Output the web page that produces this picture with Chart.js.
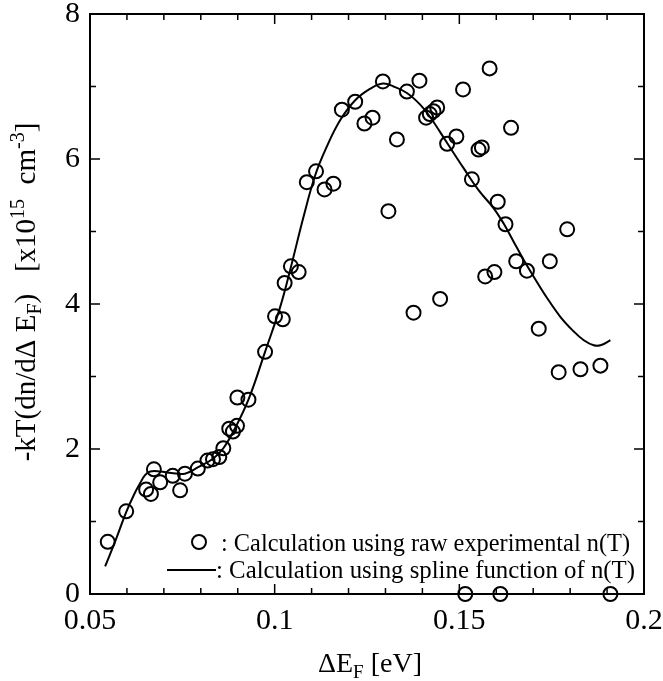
<!DOCTYPE html>
<html>
<head>
<meta charset="utf-8">
<script src="https://cdn.jsdelivr.net/npm/chart.js@4.4.0/dist/chart.umd.min.js"></script>
<style>
  html, body { margin: 0; padding: 0; background: #fff; }
  #wrap { width: 663px; height: 681px; }
</style>
</head>
<body>
<div id="wrap"><canvas id="chart" width="663" height="681"></canvas></div>
<script>
// raw experimental points
const rawX = [0.0548, 0.0598, 0.0652, 0.0665, 0.0673, 0.0690, 0.0724, 0.0744, 0.0757, 0.0792,
    0.0818, 0.0833, 0.0850, 0.0861, 0.0877, 0.0887, 0.0898, 0.0899, 0.0929, 0.0974,
    0.1001, 0.1022, 0.1027, 0.1044, 0.1065, 0.1087, 0.1112, 0.1135, 0.1159, 0.1182,
    0.1218, 0.1243, 0.1265, 0.1293, 0.1308, 0.1331, 0.1358, 0.1376, 0.1392, 0.1410,
    0.1420, 0.1430, 0.1440, 0.1448, 0.1467, 0.1492, 0.1510, 0.1534, 0.1552, 0.1561,
    0.1570, 0.1582, 0.1595, 0.1604, 0.1625, 0.1640, 0.1654, 0.1683, 0.1715, 0.1745,
    0.1769, 0.1792, 0.1828, 0.1882, 0.1516, 0.1611, 0.1909];
const rawY = [0.72, 1.14, 1.44, 1.38, 1.72, 1.54, 1.63, 1.43, 1.66, 1.73,
    1.84, 1.86, 1.89, 2.01, 2.28, 2.24, 2.32, 2.71, 2.68, 3.34,
    3.83, 3.79, 4.29, 4.52, 4.44, 5.68, 5.83, 5.58, 5.66, 6.68,
    6.79, 6.49, 6.57, 7.07, 5.28, 6.27, 6.93, 3.88, 7.08, 6.57,
    6.62, 6.66, 6.71, 4.07, 6.21, 6.31, 6.96, 5.72, 6.13, 6.16,
    4.38, 7.25, 4.44, 5.41, 5.10, 6.43, 4.59, 4.46, 3.66, 4.59,
    3.06, 5.03, 3.10, 3.15, 0, 0, 0];

// spline curve
const splineX = [0.0541, 0.0570, 0.0598, 0.0620, 0.0636, 0.0649, 0.0663, 0.0690, 0.0720, 0.0757,
    0.0793, 0.0834, 0.0861, 0.0888, 0.0929, 0.0974, 0.1015, 0.1042, 0.1078, 0.1110,
    0.1141, 0.1178, 0.1218, 0.1259, 0.1293, 0.1322, 0.1358, 0.1394, 0.1421, 0.1467,
    0.1512, 0.1552, 0.1593, 0.1620, 0.1647, 0.1674, 0.1701, 0.1738, 0.1774, 0.1810,
    0.1837, 0.1864, 0.1882, 0.1909];
const splineY = [0.38, 0.75, 1.13, 1.38, 1.53, 1.64, 1.69, 1.69, 1.67, 1.66,
    1.75, 1.87, 2.01, 2.24, 2.68, 3.34, 3.96, 4.47, 5.20, 5.78,
    6.17, 6.54, 6.81, 6.97, 7.04, 7.00, 6.91, 6.75, 6.58, 6.22,
    5.87, 5.57, 5.32, 5.11, 4.86, 4.61, 4.38, 4.08, 3.82, 3.62,
    3.50, 3.43, 3.43, 3.50];

const xMajor = [0.05, 0.1, 0.15, 0.2];
const xMajorLabels = ['0.05', '0.1', '0.15', '0.2'];
const yMajor = [0, 2, 4, 6, 8];

const legendLabels = [': Calculation using raw experimental n(T)', ': Calculation using spline function of n(T)'];

const serif = '"Liberation Serif", "Times New Roman", serif';

function isMajorX(v) {
    return xMajor.some(m => Math.abs(m - v) < 1e-6);
}

// inner ticks, frame, titles, legend
const decorPlugin = {
    id: 'decor',
    afterDraw(chart) {
        const ctx = chart.ctx;
        const a = chart.chartArea;
        const xs = chart.scales.x;
        const ys = chart.scales.y;
        ctx.save();
        ctx.strokeStyle = '#000';
        ctx.lineWidth = 2;
        ctx.strokeRect(a.left, a.top, a.right - a.left, a.bottom - a.top);

        ctx.lineWidth = 1.5;
        xs.ticks.forEach(t => {
            const px = xs.getPixelForValue(t.value);
            const len = isMajorX(t.value) ? 10 : 6;
            ctx.beginPath();
            ctx.moveTo(px, a.bottom); ctx.lineTo(px, a.bottom - len);
            ctx.moveTo(px, a.top); ctx.lineTo(px, a.top + len);
            ctx.stroke();
        });
        ys.ticks.forEach(t => {
            const py = ys.getPixelForValue(t.value);
            const len = yMajor.includes(Math.round(t.value)) ? 10 : 6;
            ctx.beginPath();
            ctx.moveTo(a.left, py); ctx.lineTo(a.left + len, py);
            ctx.moveTo(a.right, py); ctx.lineTo(a.right - len, py);
            ctx.stroke();
        });

        // x title
        ctx.fillStyle = '#000';
        ctx.textBaseline = 'alphabetic';
        const big = '28px ' + serif;
        const small = '19px ' + serif;
        let parts = [['\u0394E', big, 0], ['F', small, 6], [' [eV]', big, 0]];
        drawParts(ctx, parts, 370, 672);

        // y title, rotated
        ctx.save();
        ctx.translate(35, 292);
        ctx.rotate(-Math.PI / 2);
        const bigY = '29px ' + serif;
        const smallY = '20px ' + serif;
        parts = [['-kT(dn/d\u0394 E', bigY, 0], ['F', smallY, 6], [')   [x10', bigY, 0], ['15', smallY, -11],
            ['  cm', bigY, 0], ['-3', smallY, -11], [']', bigY, 0]];
        drawParts(ctx, parts, 0, 0);
        ctx.restore();

        // legend
        const ds0 = chart.data.datasets[0];
        const ds1 = chart.data.datasets[1];
        ctx.beginPath();
        ctx.lineWidth = ds0.borderWidth;
        ctx.arc(199, 542, ds0.pointRadius, 0, Math.PI * 2);
        ctx.stroke();
        ctx.beginPath();
        ctx.lineWidth = ds1.borderWidth;
        ctx.moveTo(167, 570); ctx.lineTo(216, 570);
        ctx.stroke();
        ctx.font = '25px ' + serif;
        fitText(ctx, legendLabels[0], 221, 551, 409);
        fitText(ctx, legendLabels[1], 216, 578, 419);
        ctx.restore();
    }
};

function drawParts(ctx, parts, cx, cy) {
    let total = 0;
    parts.forEach(p => { ctx.font = p[1]; total += ctx.measureText(p[0]).width; });
    let x = cx - total / 2;
    parts.forEach(p => {
        ctx.font = p[1];
        ctx.textAlign = 'left';
        ctx.fillText(p[0], x, cy + p[2]);
        x += ctx.measureText(p[0]).width;
    });
}

function fitText(ctx, text, x, y, maxW) {
    ctx.textAlign = 'left';
    const w = ctx.measureText(text).width;
    ctx.save();
    ctx.translate(x, y);
    if (w > maxW) ctx.scale(maxW / w, 1);
    ctx.fillText(text, 0, 0);
    ctx.restore();
}

new Chart(document.getElementById('chart'), {
    type: 'scatter',
    data: {
        datasets: [{
            label: 'raw',
            data: rawX.map((x, i) => ({ x: x, y: rawY[i] })),
            showLine: false,
            pointStyle: 'circle',
            pointRadius: 7,
            borderWidth: 2,
            borderColor: '#000',
            backgroundColor: 'rgba(0,0,0,0)',
            clip: false
        }, {
            label: 'spline',
            data: splineX.map((x, i) => ({ x: x, y: splineY[i] })),
            showLine: true,
            pointRadius: 0,
            borderWidth: 2,
            borderColor: '#000',
            backgroundColor: 'rgba(0,0,0,0)',
            tension: 0.4
        }]
    },
    options: {
        responsive: false,
        animation: false,
        devicePixelRatio: 1,
        layout: { padding: { left: 0, top: 14, right: 19, bottom: 0 } },
        plugins: { legend: { display: false }, tooltip: { enabled: false } },
        scales: {
            x: {
                type: 'linear',
                min: 0.05,
                max: 0.2,
                grid: { display: false, drawTicks: false },
                border: { display: false },
                ticks: {
                    stepSize: 0.01,
                    autoSkip: false,
                    maxRotation: 0,
                    padding: 9,
                    color: '#000',
                    font: { family: serif, size: 30 },
                    callback: v => {
                        const i = xMajor.findIndex(m => Math.abs(m - v) < 1e-6);
                        return i >= 0 ? xMajorLabels[i] : '';
                    }
                },
                afterFit: s => { s.height = 87; s.paddingLeft = 0; s.paddingRight = 0; }
            },
            y: {
                min: 0,
                max: 8,
                grid: { display: false, drawTicks: false },
                border: { display: false },
                ticks: {
                    stepSize: 1,
                    autoSkip: false,
                    padding: 10,
                    color: '#000',
                    font: { family: serif, size: 30 },
                    callback: v => yMajor.includes(v) ? String(v) : ''
                },
                afterFit: s => { s.width = 90; s.paddingTop = 0; s.paddingBottom = 0; }
            }
        }
    },
    plugins: [decorPlugin]
});
</script>
</body>
</html>
